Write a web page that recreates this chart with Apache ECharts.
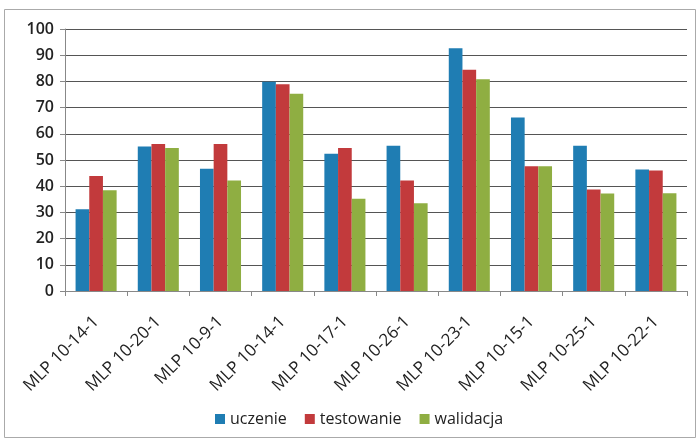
<!DOCTYPE html>
<html>
<head>
<meta charset="utf-8">
<script src="https://cdn.jsdelivr.net/npm/echarts@6/dist/echarts.min.js"></script>
<style>
  html, body { margin: 0; padding: 0; background: #fff; }
  #main { width: 700px; height: 441px; }
</style>
</head>
<body>
<div id="main"></div>
<script>
// dane
var categories = ['MLP 10-14-1', 'MLP 10-20-1', 'MLP 10-9-1', 'MLP 10-14-1', 'MLP 10-17-1',
                  'MLP 10-26-1', 'MLP 10-23-1', 'MLP 10-15-1', 'MLP 10-25-1', 'MLP 10-22-1'];
var uczenie     = [31.2, 55.2, 46.7, 79.9, 52.4, 55.4, 92.7, 66.2, 55.4, 46.4];
var testowanie  = [43.9, 56.1, 56.1, 78.9, 54.6, 42.2, 84.4, 47.6, 38.7, 46.0];
var walidacja   = [38.5, 54.6, 42.2, 75.3, 35.2, 33.5, 80.8, 47.6, 37.2, 37.3];
var seriesNames = ['uczenie', 'testowanie', 'walidacja'];
var colors = ['#1f7db3', '#c23a3c', '#8fae42'];

var chart = echarts.init(document.getElementById('main'));
var font = 'Open Sans';

var option = {
    animation: false,
    color: colors,
    graphic: [{
        type: 'rect',
        shape: { x: 4.5, y: 9.5, width: 691, height: 428 },
        style: { fill: 'none', stroke: '#aaa', lineWidth: 1 }
    }],
    grid: { left: 65, right: 13, top: 29, bottom: 150 },
    legend: {
        bottom: 9,
        left: 210,
        itemWidth: 10,
        itemHeight: 10,
        itemGap: 18,
        icon: 'rect',
        textStyle: { fontFamily: font, fontSize: 16, color: '#222' },
        data: seriesNames
    },
    xAxis: {
        type: 'category',
        data: categories,
        axisLine: { lineStyle: { color: '#888', width: 1 } },
        axisTick: { show: true, length: 5, lineStyle: { color: '#888' } },
        axisLabel: {
            interval: 0,
            rotate: 45,
            margin: 28,
            fontFamily: font,
            fontSize: 17,
            color: '#222'
        }
    },
    yAxis: {
        type: 'value',
        min: 0,
        max: 100,
        interval: 10,
        axisLine: { show: true, lineStyle: { color: '#888' } },
        axisTick: { show: true, length: 5, lineStyle: { color: '#888' } },
        axisLabel: { fontFamily: font, fontSize: 16, fontWeight: 600, color: '#222', margin: 11 },
        splitLine: { lineStyle: { color: '#555', width: 1 } }
    },
    series: [
        { name: seriesNames[0], type: 'bar', data: uczenie, barGap: '0%', barCategoryGap: '34%' },
        { name: seriesNames[1], type: 'bar', data: testowanie, barGap: '0%', barCategoryGap: '34%' },
        { name: seriesNames[2], type: 'bar', data: walidacja, barGap: '0%', barCategoryGap: '34%' }
    ]
};
chart.setOption(option);
</script>
</body>
</html>
